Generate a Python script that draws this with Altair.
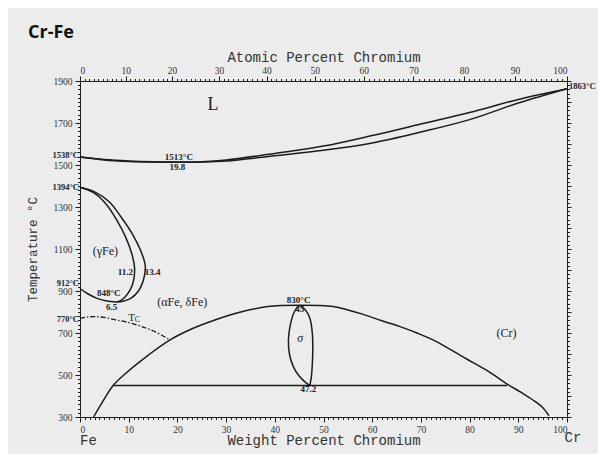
import altair as alt
import pandas as pd

# ---------------- data (weight % Cr, temperature °C) ----------------
liq_w = [0, 5, 10, 15, 20, 25, 30, 40, 50, 60, 70, 80, 90, 100]
liq_t = [1538, 1526, 1519, 1515, 1514, 1516, 1524, 1555, 1590, 1640, 1695, 1750, 1812, 1863]
sol_w = [0, 5, 10, 15, 20, 25, 30, 40, 50, 60, 70, 80, 90, 100]
sol_t = [1538, 1524, 1517, 1514, 1513, 1514, 1519, 1544, 1570, 1605, 1657, 1716, 1795, 1863]

gam_out_w = [0, 3, 6, 8.5, 10.8, 12.5, 13.4, 13.0, 12.0, 10.5, 8.8, 7.5]
gam_out_t = [1394, 1372, 1325, 1250, 1170, 1090, 1020, 950, 900, 866, 851, 848]
gam_in_w = [0, 3, 5.5, 7.5, 9.3, 10.6, 11.2, 11.0, 10.3, 9.2, 8.2, 7.5]
gam_in_t = [1394, 1365, 1310, 1240, 1160, 1080, 1010, 950, 905, 870, 853, 848]
gam_low_w = [0, 1.5, 3.5, 5.5, 7.5]
gam_low_t = [912, 888, 865, 852, 848]

tc_w = [0, 1.5, 3, 5, 7.5, 10.3, 13, 15.5, 18.5]
tc_t = [770, 776, 778, 774, 762, 748, 728, 705, 667]

dome_w = [2.8, 4.5, 6.8, 9, 12.7, 18.5, 23, 27.7, 33, 38.6, 45, 52, 55, 58, 62, 66, 69.2,
          72.5, 76, 79.5, 84, 87.7, 90.5, 93, 95, 96.3]
dome_t = [300, 367, 450, 500, 571, 667, 720, 762, 800, 826, 832, 826, 810, 790, 758, 728, 700,
          667, 622, 575, 515, 457, 418, 381, 345, 305]

tie_w = [6.8, 87.7]
tie_t = [450, 450]

sig_w = [47.2, 46.3, 45.0, 43.8, 43.0, 42.8, 43.2, 44.0, 45.0, 46.2, 47.2, 47.7, 47.8, 47.7, 47.5, 47.2]
sig_t = [450, 465, 495, 540, 600, 670, 740, 800, 830, 812, 770, 700, 620, 550, 490, 450]

# atomic percent ticks on top axis
at_major = [0, 10, 20, 30, 40, 50, 60, 70, 80, 90, 100]
at_minor = list(range(0, 101))
M_CR, M_FE = 51.996, 55.845

# weight-percent / temperature ticks
w_major = [0, 10, 20, 30, 40, 50, 60, 70, 80, 90, 100]
w_minor = list(range(0, 101))
t_major = [300, 500, 700, 900, 1100, 1300, 1500, 1700, 1900]
t_minor = list(range(300, 1901, 20))
t_right_major = list(range(300, 1901, 100))

# annotations
ann_small_txt = ["1513°C", "19.8", "11.2", "13.4", "848°C", "6.5", "830°C", "45", "47.2"]
ann_small_w = [20.3, 20.0, 9.3, 14.9, 5.9, 6.5, 44.9, 45.1, 46.9]
ann_small_t = [1536, 1490, 990, 990, 889, 825, 857, 812, 432]

left_txt = ["1538°C", "1394°C", "912°C", "770°C"]
left_t = [1546, 1394, 940, 768]

phase_txt = ["(γFe)", "(αFe, δFe)", "(Cr)"]
phase_w = [5.2, 21.0, 87.6]
phase_t = [1090, 849, 698]


def at_to_wt(a):
    return 100.0 * a * M_CR / (a * M_CR + (100 - a) * M_FE)


rows = []
for name, ws, ts in [("liq", liq_w, liq_t), ("sol", sol_w, sol_t),
                     ("go", gam_out_w, gam_out_t), ("gi", gam_in_w, gam_in_t),
                     ("gl", gam_low_w, gam_low_t), ("dome", dome_w, dome_t),
                     ("tie", tie_w, tie_t), ("sig", sig_w, sig_t)]:
    for i, (w, t) in enumerate(zip(ws, ts)):
        rows.append({"curve": name, "i": i, "w": w, "t": t})
curves = pd.DataFrame(rows)
tc = pd.DataFrame({"i": range(len(tc_w)), "w": tc_w, "t": tc_t})

xs = alt.Scale(domain=[0, 100], nice=False, zero=False)
ys = alt.Scale(domain=[300, 1900], nice=False, zero=False)

INK = "#1c1c1c"
LBL = dict(labelFont="Liberation Serif", labelFontSize=9.5, labelColor="#333",
           tickColor=INK, domainColor=INK, grid=False)
TTL = dict(titleFont="Liberation Mono", titleFontSize=14, titleFontWeight="normal",
           titleColor="#333")

top_major_pos = [at_to_wt(a) for a in at_major]
top_minor_pos = [at_to_wt(a) for a in at_minor]
lab_expr = ("format(round(100*(datum.value/%f)/(datum.value/%f+(100-datum.value)/%f)),'d')"
            % (M_CR, M_CR, M_FE))


def txt_layer(df, **mark_kw):
    return alt.Chart(df).mark_text(**mark_kw).encode(
        x=alt.X("w:Q", scale=xs, axis=None), y=alt.Y("t:Q", scale=ys, axis=None),
        text="txt:N")


base = alt.Chart(curves)

main = base.mark_line(interpolate="catmull-rom", color=INK, strokeWidth=1.5).encode(
    x=alt.X("w:Q", scale=xs, axis=alt.Axis(orient="bottom", values=w_major, tickSize=5,
                                           labelPadding=2, title="Weight Percent Chromium",
                                           titlePadding=0, format="d", **LBL, **TTL)),
    y=alt.Y("t:Q", scale=ys, axis=alt.Axis(orient="left", values=t_major, tickSize=5,
                                           labelPadding=3, title="Temperature °C",
                                           titlePadding=14, format="d",
                                           **{**LBL, **TTL, "titleFontSize": 12.5})),
    detail="curve:N", order="i:Q")

tcl = alt.Chart(tc).mark_line(interpolate="catmull-rom", color=INK, strokeWidth=1.3,
                              strokeDash=[5, 2, 1.5, 2]).encode(
    x=alt.X("w:Q", scale=xs, axis=None), y=alt.Y("t:Q", scale=ys, axis=None), order="i:Q")

minor = base.mark_point(opacity=0).encode(
    x=alt.X("w:Q", scale=xs, axis=alt.Axis(orient="bottom", values=w_minor, tickSize=2.5,
                                           labels=False, domain=False, title=None, **LBL)),
    y=alt.Y("t:Q", scale=ys, axis=alt.Axis(orient="left", values=t_minor, tickSize=2.5,
                                           labels=False, domain=False, title=None, **LBL)))

top = base.mark_point(opacity=0).encode(
    x=alt.X("w:Q", scale=xs, axis=alt.Axis(orient="top", values=top_major_pos, tickSize=5,
                                           labelExpr=lab_expr, labelPadding=1,
                                           title="Atomic Percent Chromium", titlePadding=1,
                                           **LBL, **TTL)),
    y=alt.Y("t:Q", scale=ys, axis=alt.Axis(orient="right", values=t_right_major, tickSize=4,
                                           labels=False, title=None, **LBL)))

top_minor = base.mark_point(opacity=0).encode(
    x=alt.X("w:Q", scale=xs, axis=alt.Axis(orient="top", values=top_minor_pos, tickSize=2.5,
                                           labels=False, domain=False, title=None, **LBL)),
    y=alt.Y("t:Q", scale=ys, axis=alt.Axis(orient="right", values=t_minor, tickSize=2.5,
                                           labels=False, domain=False, title=None, **LBL)))

small = txt_layer(pd.DataFrame({"w": ann_small_w, "t": ann_small_t, "txt": ann_small_txt}),
                  font="Liberation Serif", fontSize=9, fontWeight="bold", color="#222")
leftl = txt_layer(pd.DataFrame({"w": [0] * len(left_t), "t": left_t, "txt": left_txt}),
                  font="Liberation Serif", fontSize=8.5, fontWeight="bold", color="#222",
                  align="right", dx=-1)
rightl = txt_layer(pd.DataFrame({"w": [100], "t": [1876], "txt": ["1863°C"]}),
                   font="Liberation Serif", fontSize=8.5, fontWeight="bold", color="#222",
                   align="left", dx=2)
phase = txt_layer(pd.DataFrame({"w": phase_w, "t": phase_t, "txt": phase_txt}),
                  font="Liberation Serif", fontSize=12, color="#222")
bigl = txt_layer(pd.DataFrame({"w": [27.3], "t": [1786], "txt": ["L"]}),
                 font="Liberation Serif", fontSize=18, color="#222")
sigl = txt_layer(pd.DataFrame({"w": [45.2], "t": [676], "txt": ["σ"]}),
                 font="Liberation Serif", fontSize=12, fontStyle="italic", color="#222")
tcT = txt_layer(pd.DataFrame({"w": [10.6], "t": [772], "txt": ["T"]}),
                font="Liberation Serif", fontSize=11, color="#222")
tcC = txt_layer(pd.DataFrame({"w": [11.8], "t": [760], "txt": ["C"]}),
                font="Liberation Serif", fontSize=8, color="#222")
feL = txt_layer(pd.DataFrame({"w": [0], "t": [300], "txt": ["Fe"]}),
                font="Liberation Mono", fontSize=14, color="#333", baseline="top", dy=17,
                align="left")
crL = txt_layer(pd.DataFrame({"w": [100], "t": [300], "txt": ["Cr"]}),
                font="Liberation Mono", fontSize=14, color="#333", baseline="top", dy=14,
                align="center", dx=6)

chart = alt.layer(main, tcl, minor, top, top_minor, small, leftl, rightl, phase, bigl, sigl,
                  tcT, tcC, feL, crL).resolve_axis(x="independent", y="independent").properties(
    width=487, height=336,
    autosize=alt.AutoSizeParams(type="none"),
    padding={"left": 72, "top": 73, "right": 31, "bottom": 37},
    background="#ececec",
    title=alt.TitleParams(text="Cr-Fe", anchor="start", frame="group", font="Open Sans",
                          fontSize=18, fontWeight="bold", color="#111", dx=-52, dy=-4),
).configure_view(stroke=None)

chart.save("out.html", embed_options={"renderer": "svg", "actions": False})
